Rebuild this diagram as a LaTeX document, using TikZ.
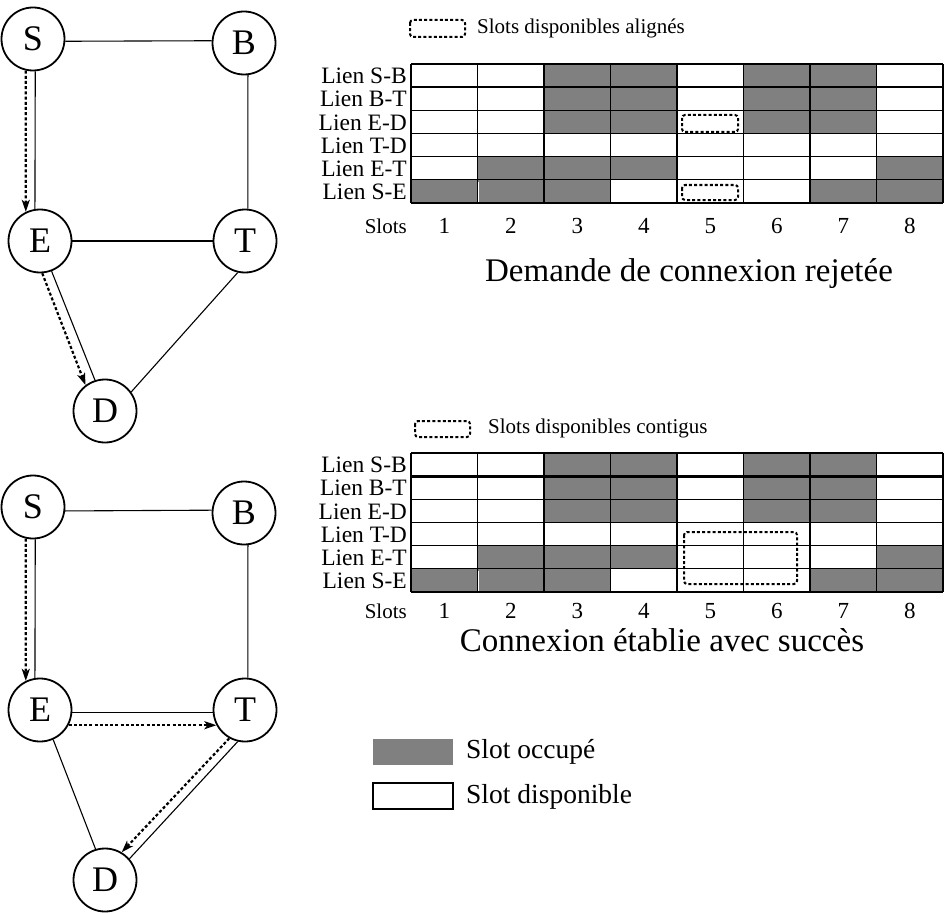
\documentclass[tikz,border=0pt]{standalone}
\usepackage{fontspec}
\setmainfont{Liberation Serif}
\usetikzlibrary{arrows.meta}
\newcommand\slottable[2]{%
  \foreach \c/\r in {3/1,4/1,6/1,7/1,3/2,4/2,6/2,7/2,3/3,4/3,6/3,7/3,2/5,3/5,4/5,8/5,1/6,2/6,3/6,7/6,8/6}
    \fill[cellgray] ({411+(\c-1)*66.5},{64+(\r-1)*23.17}) rectangle ++(66.5,23.17);
  \draw[white,line width=0.8pt] (478.5,182) -- (478.5,202);
  \foreach \i in {0,...,8}
    \draw[gridline] ({411+\i*66.5},64) -- ++(0,139);
  \foreach \j in {0,2,3,4,5,6}
    \draw[gridline] (411,{64+\j*23.17}) -- (943,{64+\j*23.17});
  \draw[line width=2.6pt] (411,87.2) -- (943,87.2);
  \foreach \r/\t in {1/S-B,2/B-T,3/E-D,4/T-D,5/E-T,6/S-E}
    \node[lab] (#1-row\r) at (407,{64+(\r-0.5)*23.17+0.5}) {Lien \t};
  \node[slotlab] (#1-slots) at (407,#2) {Slots};
  \foreach \c in {1,...,8}
    \node[num] (#1-n\c) at ({411+(\c-0.5)*66.5},#2) {\c};
}
\begin{document}
\begin{tikzpicture}[x=1pt,y=-1pt,
  vertex/.style={circle,draw,line width=1.8pt,minimum size=63pt,inner sep=0pt,font=\fontsize{36}{36}\selectfont},
  link/.style={line width=1.1pt},
  route/.style={line width=2.2pt,dash pattern=on 3pt off 2.2pt,-{Stealth[length=12pt,width=8pt,inset=3pt]}},
  lab/.style={anchor=east,inner sep=0pt,font=\fontsize{23.5}{23.5}\selectfont},
  slotlab/.style={anchor=east,inner sep=0pt,font=\fontsize{21}{21}\selectfont},
  num/.style={inner sep=0pt,font=\fontsize{23}{23}\selectfont},
  gridline/.style={line width=1.2pt},
  dotbox/.style={line width=2pt,dash pattern=on 3pt off 2.2pt,rounded corners=3pt},
  legtext/.style={anchor=west,inner sep=0pt,font=\fontsize{21}{21}\selectfont},
  bigtitle/.style={inner sep=0pt,font=\fontsize{33}{33}\selectfont},
  keytext/.style={anchor=west,inner sep=0pt,font=\fontsize{27.5}{27.5}\selectfont}
]
\colorlet{cellgray}{black!50}
\useasboundingbox (0,0) rectangle (944,912);

% ---------- top graph ----------
\node[vertex] (S1) at (33,39) {S};
\node[vertex] (B1) at (244,43) {B};
\node[vertex] (E1) at (40,241) {E};
\node[vertex] (T1) at (245,241) {T};
\node[vertex] (D1) at (105,411) {D};
\draw[link] (S1.-4) -- (B1.176);
\draw[link] (S1.-86) -- (E1.99);
\draw[link] (B1.-83) -- (T1.85);
\draw[link] (E1) -- (T1);
\draw[link] (T1.-103) -- (D1.36);
\draw[link] (E1.-69) -- (D1.108);
\draw[route] (S1.-103) -- (E1.116);
\draw[route] (E1.-86) -- (D1.127);

% ---------- bottom graph ----------
\node[vertex] (S2) at (33,507) {S};
\node[vertex] (B2) at (244,513) {B};
\node[vertex] (E2) at (40,710) {E};
\node[vertex] (T2) at (245,710) {T};
\node[vertex] (D2) at (105,880) {D};
\draw[link] (S2.-7) -- (B2.175);
\draw[link] (S2.-86) -- (E2.99);
\draw[link] (B2.-83) -- (T2.85);
\draw[link] (E2.-4) -- (T2.184);
\draw[link] (T2.-103) -- (D2.41);
\draw[link] (E2.-66) -- (D2.107);
\draw[route] (S2.-103) -- (E2.116);
\draw[route] (E2.-28) -- (T2.-152);
\draw[route] (T2.-119) -- (D2.59);

% ---------- top table ----------
\draw[dotbox] (410,20) rectangle (465,37);
\node[legtext] (leg1) at (477,28) {Slots disponibles alignés};
\slottable{ta}{226}
\draw[dotbox] (682,115) rectangle (738,132);
\draw[dotbox] (682,185) rectangle (738,200);
\node[bigtitle] (title1) at (689,274) {Demande de connexion rejetée};

% ---------- bottom table ----------
\draw[dotbox] (415,421) rectangle (470,437);
\node[legtext] (leg2) at (488,428) {Slots disponibles contigus};
\begin{scope}[yshift=-389pt]
\slottable{tb}{222}
\end{scope}
\draw[dotbox] (684,532) rectangle (797,584);
\node[bigtitle] (title2) at (662,640) {Connexion établie avec succès};

% ---------- key ----------
\fill[cellgray] (373,739) rectangle (453,765);
\node[keytext] (k1) at (466,752) {Slot occupé};
\draw[line width=1.5pt] (373,783) rectangle (453,809);
\node[keytext] (k2) at (466,797) {Slot disponible};
\end{tikzpicture}
\end{document}
